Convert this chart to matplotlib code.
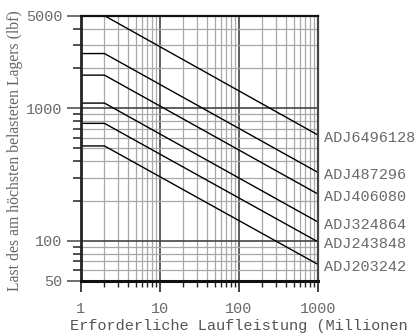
import matplotlib.pyplot as plt
from matplotlib.ticker import NullFormatter

# bearing models and load curves (flat up to 2 million revs, then falling)
models = ['ADJ6496128', 'ADJ487296', 'ADJ406080', 'ADJ324864', 'ADJ243848', 'ADJ203242']
life_points = [1, 2, 1000]
start_loads = [5000, 2590, 1780, 1095, 770, 520]
end_loads = [630, 329, 226, 139, 98.5, 66.5]

x_major = [1, 10, 100, 1000]
x_major_labels = ['1', '10', '100', '1000']
x_minor = [2, 3, 4, 5, 6, 7, 8, 9, 20, 30, 40, 50, 60, 70, 80, 90,
           200, 300, 400, 500, 600, 700, 800, 900]
y_major = [50, 100, 1000, 5000]
y_major_labels = ['50', '100', '1000', '5000']
y_minor = [60, 70, 80, 90, 200, 300, 400, 500, 600, 700, 800, 900, 2000, 3000, 4000]

mono = 'Liberation Mono'
grey = '#6a6a6a'

fig = plt.figure(figsize=(4.15, 3.35), dpi=100)
ax = fig.add_axes([80.7 / 415, 1 - 280.7 / 335, 237 / 415, 265 / 335])
ax.set_xscale('log')
ax.set_yscale('log')
ax.set_xlim(1, 1000)
ax.set_ylim(50, 5000)

ax.set_xticks(x_major)
ax.set_xticklabels(x_major_labels)
ax.set_xticks(x_minor, minor=True)
ax.set_yticks(y_major)
ax.set_yticklabels(y_major_labels)
ax.set_yticks(y_minor, minor=True)
ax.xaxis.set_minor_formatter(NullFormatter())
ax.yaxis.set_minor_formatter(NullFormatter())

ax.grid(True, which='major', color='#444444', linewidth=1.2)
ax.grid(True, which='minor', color='#a8a8a8', linewidth=0.9)
ax.set_axisbelow(True)

ax.tick_params(axis='x', which='major', direction='out', length=8, width=1.2,
               color='#222222', pad=7.5)
ax.tick_params(axis='x', which='minor', direction='out', length=4.5, width=1,
               color='#222222')
ax.tick_params(axis='y', which='major', direction='out', length=10, width=1.2,
               color='#555555', pad=3)
ax.tick_params(axis='y', which='minor', direction='out', length=5.5, width=1.2,
               color='#333333')
for lab in ax.get_xticklabels() + ax.get_yticklabels():
    lab.set_fontfamily(mono)
    lab.set_fontsize(11)
    lab.set_color(grey)

ax.spines['left'].set_linewidth(2)
ax.spines['left'].set_color('#222222')
ax.spines['bottom'].set_linewidth(2.2)
ax.spines['bottom'].set_color('#111111')
ax.spines['top'].set_linewidth(1.6)
ax.spines['top'].set_color('#111111')
ax.spines['right'].set_linewidth(1.6)
ax.spines['right'].set_color('#444444')

for name, y0, y1 in zip(models, start_loads, end_loads):
    ax.plot(life_points, [y0, y0, y1], color='black', linewidth=1.0)
    ax.annotate(name, xy=(1000, y1), xytext=(4.5, -2), textcoords='offset points',
                va='center', ha='left', fontfamily=mono, fontsize=11, color=grey,
                annotation_clip=False)

fig.text(15 / 415, 1 - 151 / 335, 'Last des am höchsten belasteten Lagers (lbf)',
         rotation=90, ha='center', va='center', fontfamily='Liberation Serif',
         fontsize=11.3, color='#666666')
fig.text(70 / 415, 1 - 330 / 335, 'Erforderliche Laufleistung (Millionen',
         fontfamily=mono, fontsize=11, color='#555555', ha='left', va='baseline')

fig.savefig('out.png', dpi=100)
